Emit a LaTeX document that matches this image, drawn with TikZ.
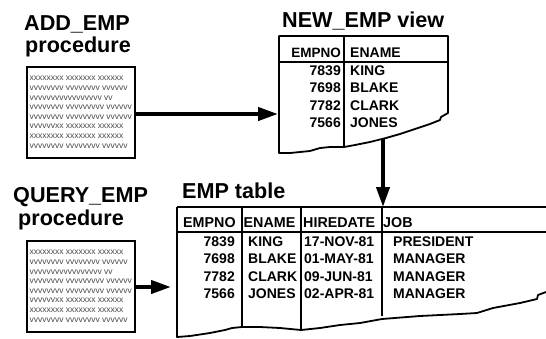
\documentclass[tikz,border=0pt]{standalone}
\usepackage{fontspec}
\setmainfont{Liberation Sans}
\usetikzlibrary{arrows.meta}
\definecolor{proctxt}{HTML}{484848}
\tikzset{
  ttl/.style={font=\fontsize{21.6}{24}\selectfont\bfseries, anchor=base west, inner sep=0pt},
  cellr/.style={font=\fontsize{14}{15}\selectfont\bfseries, anchor=base east, inner sep=0pt},
  celll/.style={font=\fontsize{14}{15}\selectfont\bfseries, anchor=base west, inner sep=0pt},
  hdr/.style={font=\fontsize{14.3}{15}\selectfont\bfseries, anchor=base west, inner sep=0pt},
  procbox/.style={draw, line width=1.5pt, anchor=north west, minimum width=108pt, minimum height=91pt,
     inner sep=0pt, align=left, text=proctxt,
     font=\fontsize{8.5}{9.6}\selectfont},
  outer/.style={line width=1.8pt, line join=round},
  inner/.style={line width=1.1pt},
  bigarrow/.style={line width=4pt, -{Triangle[length=20pt,width=13pt]}, shorten >=0pt},
}
\begin{document}
\begin{tikzpicture}[x=1pt,y=-1pt]
\useasboundingbox (0,0) rectangle (546,338);
% titles
\node[ttl] (t1) at (24,30) {ADD\_EMP};
\node[ttl] (t2) at (25,52) {procedure};
\node[ttl] (t3) at (282,27) {NEW\_EMP view};
\node[ttl] (t4) at (13,202) {QUERY\_EMP};
\node[ttl] (t5) at (18,225) {procedure};
\node[ttl] (t6) at (182,198) {EMP table};
% procedure boxes
\node[procbox] (addbox) at (26,66) {xxxxxxxx xxxxxxx xxxxxx\\ vvvvvvvv vvvvvvvv vvvvvv\\ vvvvvvvvvvvvvvvvv vv\\ vvvvvvvv vvvvvvvvv vvvvvv\\ vvvvvvvv vvvvvvvvv vvvvvv\\ vvvvvvxx xxxxxxx xxxxxx\\ xxxxxxxx xxxxxxx xxxxxx\\ vvvvvvvv vvvvvvvv vvvvvv};
\node[procbox] (qrybox) at (26,240) {xxxxxxxx xxxxxxx xxxxxx\\ vvvvvvvv vvvvvvvv vvvvvv\\ vvvvvvvvvvvvvvvvv vv\\ vvvvvvvv vvvvvvvvv vvvvvv\\ vvvvvvvv vvvvvvvvv vvvvvv\\ vvvvvvxx xxxxxxx xxxxxx\\ xxxxxxxx xxxxxxx xxxxxx\\ vvvvvvvv vvvvvvvv vvvvvv};
% NEW_EMP view table
\coordinate (nTL) at (279,36);
\coordinate (nTR) at (448,36);
\draw[outer] (nTL) -- (nTR) -- (448,113) -- (441,117) -- (440,120) -- (430,124) -- (415,129) -- (400,134)
  -- (386,138) -- (370,142) -- (355,145) -- (344,147) -- (330,147) -- (320,148) -- (310,151) -- (300,152)
  -- (290,153) -- (279,153) -- cycle;
\draw[inner] (279,62) -- (448,62);
\draw[inner] (344,36) -- (344,147);
\node[cellr, font=\fontsize{13.5}{15}\selectfont\bfseries] (nh1) at (341,57) {EMPNO};
\node[celll] (nh2) at (350,57) {ENAME};
\node[cellr] (n11) at (341,75) {7839};   \node[celll] (n12) at (350,75) {KING};
\node[cellr] (n21) at (341,92.6) {7698}; \node[celll] (n22) at (350,92.6) {BLAKE};
\node[cellr] (n31) at (341,110.2) {7782};\node[celll] (n32) at (350,110.2) {CLARK};
\node[cellr] (n41) at (341,127.8) {7566};\node[celll] (n42) at (350,127.8) {JONES};
% EMP table
\coordinate (eTL) at (177,207);
\coordinate (eTR) at (546,207);
\draw[outer] (eTL) -- (eTR);
\draw[outer] (546,292) -- (538,295) -- (537,299) -- (520,303) -- (493,308) -- (477,313) -- (460,314)
  -- (420,316) -- (382,319) -- (360,323) -- (340,325) -- (320,328) -- (301,330) -- (280,328)
  -- (260,327) -- (242,327) -- (232,328) -- (225,330) -- (210,333) -- (190,336) -- (177,337) -- (eTL);
\draw[inner] (177,232) -- (546,232);
\draw[inner] (242,207) -- (242,326);
\draw[line width=1.6pt] (301,207) -- (301,330);
\draw[inner] (382,207) -- (382,316);
\node[hdr] (eh1) at (183,227) {EMPNO};
\node[hdr] (eh2) at (243.5,227) {ENAME};
\node[hdr] (eh3) at (303,227) {HIREDATE};
\node[hdr] (eh4) at (383,227) {JOB};
\node[cellr] (e11) at (235,246) {7839};   \node[celll] (e12) at (248,246) {KING};    \node[celll] (e13) at (304,246) {17-NOV-81}; \node[celll] (e14) at (393,246) {PRESIDENT};
\node[cellr] (e21) at (235,263.6) {7698}; \node[celll] (e22) at (248,263.6) {BLAKE}; \node[celll] (e23) at (304,263.6) {01-MAY-81}; \node[celll] (e24) at (393,263.6) {MANAGER};
\node[cellr] (e31) at (235,281.2) {7782}; \node[celll] (e32) at (248,281.2) {CLARK}; \node[celll] (e33) at (304,281.2) {09-JUN-81}; \node[celll] (e34) at (393,281.2) {MANAGER};
\node[cellr] (e41) at (235,298.8) {7566}; \node[celll] (e42) at (248,298.8) {JONES}; \node[celll] (e43) at (304,298.8) {02-APR-81}; \node[celll] (e44) at (393,298.8) {MANAGER};
% arrows
\coordinate (a1s) at (136,114);
\coordinate (a1e) at (278,114);
\coordinate (a2s) at (383,139);
\coordinate (a2e) at (383,207);
\coordinate (a3s) at (135,287);
\coordinate (a3e) at (171,287);
\draw[bigarrow] (a1s) -- (a1e);
\draw[bigarrow] (a2s) -- (a2e);
\draw[bigarrow] (a3s) -- (a3e);
\end{tikzpicture}
\end{document}
